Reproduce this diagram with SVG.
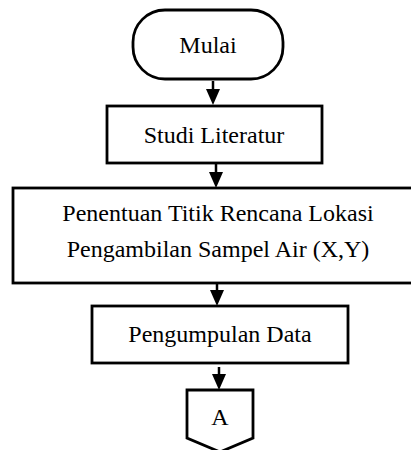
<svg xmlns="http://www.w3.org/2000/svg" width="411" height="450" viewBox="0 0 411 450">
<style>
.shape{fill:#fff;stroke:#000;stroke-width:2.8}
.lbl{font-family:"Liberation Serif","Times New Roman",serif;font-size:24px;fill:#000;text-anchor:middle}
.conn{stroke:#000;stroke-width:2.5;fill:none}
</style>
<defs>
<marker id="ah" markerUnits="userSpaceOnUse" markerWidth="14" markerHeight="16" refX="7" refY="16" orient="auto-start-reverse" viewBox="0 0 14 16">
<path d="M0,0 L14,0 L7,16 Z" fill="#000"/>
</marker>
</defs>
<rect width="411" height="450" fill="#fff"/>
<g id="connectors">
<line class="conn" x1="213" y1="81" x2="213" y2="91"/>
<path d="M206,89 L220,89 L213,105 Z" fill="#000"/>
<line class="conn" x1="216" y1="164" x2="216" y2="174"/>
<path d="M209,172 L223,172 L216,188 Z" fill="#000"/>
<line class="conn" x1="217" y1="284" x2="217" y2="292"/>
<path d="M210,290 L224,290 L217,306 Z" fill="#000"/>
<line class="conn" x1="219" y1="367" x2="219" y2="376"/>
<path d="M212,374 L226,374 L219,390 Z" fill="#000"/>
</g>
<g id="mulai">
<rect class="shape" x="133" y="10" width="150" height="69" rx="32" ry="32"/>
<text class="lbl" x="208" y="53">Mulai</text>
</g>
<g id="studi-literatur">
<rect class="shape" x="107" y="106" width="215" height="57"/>
<text class="lbl" x="214" y="143">Studi Literatur</text>
</g>
<g id="penentuan">
<rect class="shape" x="13" y="188" width="400" height="95"/>
<text class="lbl" x="218" y="221">Penentuan Titik Rencana Lokasi</text>
<text class="lbl" x="218" y="257">Pengambilan Sampel Air (X,Y)</text>
</g>
<g id="pengumpulan-data">
<rect class="shape" x="92" y="306" width="256" height="57"/>
<text class="lbl" x="220" y="342">Pengumpulan Data</text>
</g>
<g id="connector-a">
<path class="shape" d="M187,390 L253,390 L253,438 L220,452 L187,438 Z"/>
<text class="lbl" x="220" y="425">A</text>
</g>
</svg>
